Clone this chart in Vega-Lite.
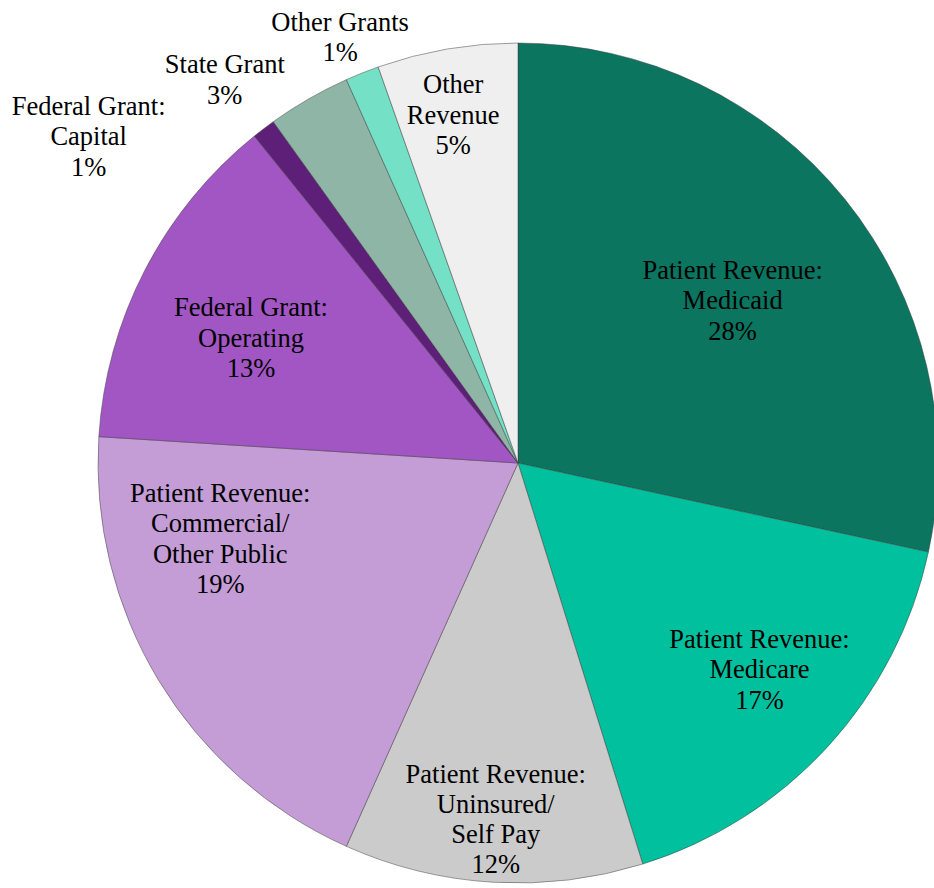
{
  "$schema": "https://vega.github.io/schema/vega-lite/v6.json",
  "width": 832,
  "height": 850,
  "padding": {"left": 102, "top": 38, "right": 0, "bottom": 0},
  "autosize": {"type": "none"},
  "background": "white",
  "view": {"stroke": null},
  "data": {
    "values": [
      {"idx": 1, "key": "Medicaid", "value": 28.4, "label": "Patient Revenue:\nMedicaid\n28%"},
      {"idx": 2, "key": "Medicare", "value": 16.8, "label": "Patient Revenue:\nMedicare\n17%"},
      {"idx": 3, "key": "Uninsured", "value": 11.5, "label": "Patient Revenue:\nUninsured/\nSelf Pay\n12%"},
      {"idx": 4, "key": "Commercial", "value": 19.3, "label": "Patient Revenue:\nCommercial/\nOther Public\n19%"},
      {"idx": 5, "key": "FedOp", "value": 13.2, "label": "Federal Grant:\nOperating\n13%"},
      {"idx": 6, "key": "FedCap", "value": 0.9, "label": "Federal Grant:\nCapital\n1%"},
      {"idx": 7, "key": "State", "value": 3.2, "label": "State Grant\n3%"},
      {"idx": 8, "key": "OtherGrants", "value": 1.3, "label": "Other Grants\n1%"},
      {"idx": 9, "key": "OtherRev", "value": 5.4, "label": "Other\nRevenue\n5%"}
    ]
  },
  "encoding": {
    "theta": {"field": "value", "type": "quantitative", "stack": true},
    "order": {"field": "idx", "type": "quantitative"}
  },
  "layer": [
    {
      "mark": {"type": "arc", "radius": 420, "stroke": "#3a3a3a", "strokeWidth": 0.8, "strokeOpacity": 0.6},
      "encoding": {
        "color": {
          "field": "key",
          "type": "nominal",
          "legend": null,
          "scale": {
            "domain": ["Medicaid", "Medicare", "Uninsured", "Commercial", "FedOp", "FedCap", "State", "OtherGrants", "OtherRev"],
            "range": ["#0b7560", "#00c09e", "#cbcbcb", "#c49cd6", "#a256c4", "#5e1f78", "#8fb5a7", "#74e0c6", "#efefef"]
          }
        }
      }
    },
    {
      "mark": {"type": "text", "radius": 268, "dx": 6, "dy": -24, "font": "Liberation Serif", "fontSize": 26.5, "lineHeight": 30.5, "lineBreak": "\n", "align": "center", "baseline": "middle", "fill": "black"},
      "encoding": {"text": {"condition": {"test": "datum.key === 'Medicaid'", "field": "label"}, "value": ""}}
    },
    {
      "mark": {"type": "text", "radius": 318, "dx": 7, "dy": -38, "font": "Liberation Serif", "fontSize": 26.5, "lineHeight": 30.5, "lineBreak": "\n", "align": "center", "baseline": "middle", "fill": "black"},
      "encoding": {"text": {"condition": {"test": "datum.key === 'Medicare'", "field": "label"}, "value": ""}}
    },
    {
      "mark": {"type": "text", "radius": 357, "dx": -1, "dy": -44, "font": "Liberation Serif", "fontSize": 26.5, "lineHeight": 30, "lineBreak": "\n", "align": "center", "baseline": "middle", "fill": "black"},
      "encoding": {"text": {"condition": {"test": "datum.key === 'Uninsured'", "field": "label"}, "value": ""}}
    },
    {
      "mark": {"type": "text", "radius": 307, "dx": -35, "dy": -128, "font": "Liberation Serif", "fontSize": 26.5, "lineHeight": 30.5, "lineBreak": "\n", "align": "center", "baseline": "middle", "fill": "black"},
      "encoding": {"text": {"condition": {"test": "datum.key === 'Commercial'", "field": "label"}, "value": ""}}
    },
    {
      "mark": {"type": "text", "radius": 295, "dx": -5, "dy": -19, "font": "Liberation Serif", "fontSize": 26.5, "lineHeight": 30.5, "lineBreak": "\n", "align": "center", "baseline": "middle", "fill": "black"},
      "encoding": {"text": {"condition": {"test": "datum.key === 'FedOp'", "field": "label"}, "value": ""}}
    },
    {
      "mark": {"type": "text", "radius": 430, "dx": -169, "dy": -14, "font": "Liberation Serif", "fontSize": 26.5, "lineHeight": 30.5, "lineBreak": "\n", "align": "center", "baseline": "middle", "fill": "black"},
      "encoding": {"text": {"condition": {"test": "datum.key === 'FedCap'", "field": "label"}, "value": ""}}
    },
    {
      "mark": {"type": "text", "radius": 430, "dx": -79, "dy": -25, "font": "Liberation Serif", "fontSize": 26.5, "lineHeight": 30.5, "lineBreak": "\n", "align": "center", "baseline": "middle", "fill": "black"},
      "encoding": {"text": {"condition": {"test": "datum.key === 'State'", "field": "label"}, "value": ""}}
    },
    {
      "mark": {"type": "text", "radius": 458, "dx": -8, "dy": -15, "font": "Liberation Serif", "fontSize": 26.5, "lineHeight": 30.5, "lineBreak": "\n", "align": "center", "baseline": "middle", "fill": "black"},
      "encoding": {"text": {"condition": {"test": "datum.key === 'OtherGrants'", "field": "label"}, "value": ""}}
    },
    {
      "mark": {"type": "text", "radius": 354, "dx": -5, "dy": -29, "font": "Liberation Serif", "fontSize": 26.5, "lineHeight": 30.5, "lineBreak": "\n", "align": "center", "baseline": "middle", "fill": "black"},
      "encoding": {"text": {"condition": {"test": "datum.key === 'OtherRev'", "field": "label"}, "value": ""}}
    }
  ]
}
